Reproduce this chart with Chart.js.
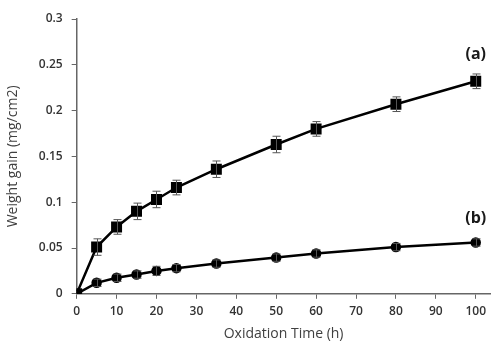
<!DOCTYPE html>
<html><head><meta charset="utf-8">
<script src="https://cdn.jsdelivr.net/npm/chart.js@4"></script>
<style>html,body{margin:0;padding:0;background:#fff}#wrap{width:499px;height:342px}</style>
</head><body><div id="wrap"><canvas id="c"></canvas></div>
<script>
const times = [0, 5, 10, 15, 20, 25, 35, 50, 60, 80, 100];
const gainA = [0, 0.051, 0.073, 0.090, 0.103, 0.116, 0.136, 0.163, 0.180, 0.207, 0.232];
const errA  = [0, 0.009, 0.008, 0.009, 0.009, 0.008, 0.009, 0.009, 0.008, 0.008, 0.008];
const gainB = [0, 0.012, 0.0175, 0.021, 0.025, 0.028, 0.033, 0.0395, 0.044, 0.051, 0.056];
const errB  = [0, 0.004, 0.004, 0.004, 0.005, 0.004, 0.004, 0.004, 0.004, 0.004, 0.004];
const seriesLabels = ['(a)', '(b)'];
const labelPos = [[100, 0.261], [100, 0.082]];
const yTicks = [0, 0.05, 0.1, 0.15, 0.2, 0.25, 0.3];
const xTicks = [0, 10, 20, 30, 40, 50, 60, 70, 80, 90, 100];

const FONT = "'Open Sans', 'Noto Sans', sans-serif";
const errSets = [errA, errB];

const errorBars = {
  id: 'errorBars',
  afterDatasetsDraw(chart) {
    const ctx = chart.ctx, xs = chart.scales.x, ys = chart.scales.y;
    ctx.save();
    ctx.strokeStyle = '#555';
    ctx.lineWidth = 1;
    chart.data.datasets.forEach((ds, i) => {
      const err = errSets[i];
      ds.data.forEach((p, j) => {
        if (!err[j]) return;
        const x = Math.round(xs.getPixelForValue(p.x)) + 0.5;
        const y1 = ys.getPixelForValue(p.y + err[j]);
        const y2 = ys.getPixelForValue(p.y - err[j]);
        ctx.beginPath();
        ctx.moveTo(x, y1); ctx.lineTo(x, y2);
        ctx.moveTo(x - 4, y1); ctx.lineTo(x + 4, y1);
        ctx.moveTo(x - 4, y2); ctx.lineTo(x + 4, y2);
        ctx.stroke();
      });
    });
    ctx.fillStyle = '#1a1a1a';
    ctx.font = "bold 16px " + FONT;
    ctx.textAlign = 'center';
    ctx.textBaseline = 'middle';
    seriesLabels.forEach((t, i) => {
      ctx.fillText(t, xs.getPixelForValue(labelPos[i][0]), ys.getPixelForValue(labelPos[i][1]));
    });
    ctx.restore();
  }
};

new Chart(document.getElementById('c'), {
  type: 'scatter',
  data: {
    datasets: [
      { label: seriesLabels[0], data: times.map((t, i) => ({x: t, y: gainA[i]})),
        showLine: true, borderColor: '#000', borderWidth: 2.5, backgroundColor: '#000',
        pointStyle: 'rect', pointRadius: 6, pointHoverRadius: 6 },
      { label: seriesLabels[1], data: times.map((t, i) => ({x: t, y: gainB[i]})),
        showLine: true, borderColor: '#000', borderWidth: 2.5, backgroundColor: '#000',
        pointStyle: 'circle', pointRadius: 4, pointHoverRadius: 4 }
    ]
  },
  options: {
    responsive: true, maintainAspectRatio: false, animation: false,
    layout: { padding: { top: 19, right: 0, left: 5, bottom: 0 } },
    plugins: { legend: { display: false }, tooltip: { enabled: false } },
    scales: {
      x: {
        type: 'linear', min: 0, max: 103.7,
        afterBuildTicks: s => { s.ticks = xTicks.map(v => ({value: v})); },
        grid: { drawOnChartArea: false, drawTicks: true, tickLength: 5, color: '#666' },
        border: { color: '#666', width: 1.5 },
        ticks: { color: '#333', font: { family: FONT, size: 12, weight: '600' }, padding: 6, maxRotation: 0 },
        title: { display: true, text: 'Oxidation Time (h)', color: '#404040',
                 font: { family: FONT, size: 14 }, padding: { top: 0, bottom: 0 } }
      },
      y: {
        min: 0, max: 0.3,
        afterBuildTicks: s => { s.ticks = yTicks.map(v => ({value: v})); },
        grid: { drawOnChartArea: false, drawTicks: true, tickLength: 5, color: '#666' },
        border: { color: '#666', width: 1.5 },
        ticks: { color: '#333', font: { family: FONT, size: 12, weight: '600' }, padding: 9,
                 callback: v => String(+v.toFixed(2)) },
        title: { display: true, text: 'Weight gain (mg/cm2)', color: '#404040',
                 font: { family: FONT, size: 14 }, padding: { top: 0, bottom: 8 } }
      }
    }
  },
  plugins: [errorBars]
});
</script></body></html>
